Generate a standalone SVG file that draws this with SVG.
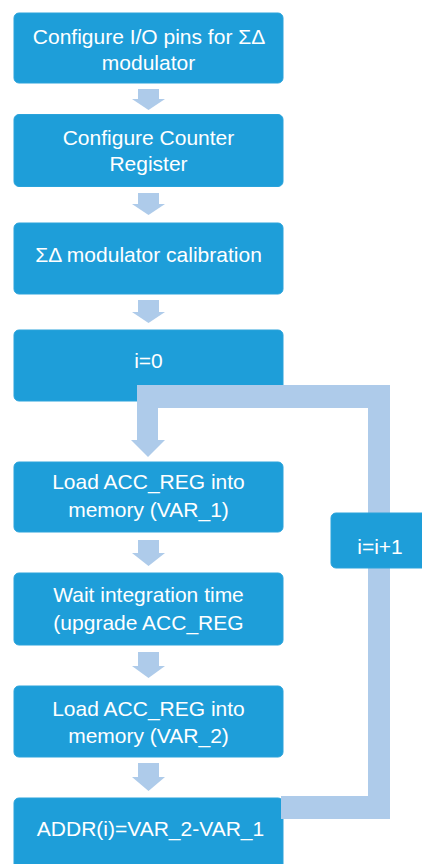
<svg xmlns="http://www.w3.org/2000/svg" width="422" height="864" viewBox="0 0 422 864">
<style>
.box{fill:#1E9ED9;stroke:#2AA3DB;stroke-width:1}
.t{font-family:"Liberation Sans",Arial,sans-serif;font-size:21px;fill:#FFFFFF;text-anchor:middle}
.arr{fill:#AECBEA}
</style>
<rect width="422" height="864" fill="#FFFFFF"/>
<g id="n1"><rect class="box" x="14" y="13" width="269" height="70" rx="5"/>
<text class="t" x="149" y="44">Configure I/O pins for ΣΔ</text>
<text class="t" x="148.5" y="69.5">modulator</text></g>
<g id="n2"><rect class="box" x="14" y="114.5" width="269" height="72" rx="5"/>
<text class="t" x="148.5" y="145">Configure Counter</text>
<text class="t" x="148.5" y="171">Register</text></g>
<g id="n3"><rect class="box" x="14" y="223" width="269" height="71" rx="5"/>
<text class="t" x="148.5" y="262">ΣΔ modulator calibration</text></g>
<g id="n4"><rect class="box" x="14" y="330" width="269" height="71" rx="5"/>
<text class="t" x="148.5" y="368">i=0</text></g>
<g id="n5"><rect class="box" x="14" y="462" width="269" height="70" rx="5"/>
<text class="t" x="148.5" y="489">Load ACC_REG into</text>
<text class="t" x="148.5" y="517">memory (VAR_1)</text></g>
<g id="n6"><rect class="box" x="14" y="573" width="269" height="72" rx="5"/>
<text class="t" x="148.5" y="602">Wait integration time</text>
<text class="t" x="148.5" y="630">(upgrade ACC_REG</text></g>
<g id="n7"><rect class="box" x="14" y="686" width="269" height="71" rx="5"/>
<text class="t" x="148.5" y="716">Load ACC_REG into</text>
<text class="t" x="148.5" y="743">memory (VAR_2)</text></g>
<g id="n8"><rect class="box" x="14" y="798" width="269" height="80" rx="5"/>
<text class="t" x="150.5" y="836">ADDR(i)=VAR_2-VAR_1</text></g>
<g id="connectors">
<polygon class="arr" points="138,89 159,89 159,99 165,99 148.5,110 132,99 138,99"/>
<polygon class="arr" points="138,193 159,193 159,204 165,204 148.5,215 132,204 138,204"/>
<polygon class="arr" points="138,300 159,300 159,312 165,312 148.5,323 132,312 138,312"/>
<polygon class="arr" points="138,540 159,540 159,553 165,553 148.5,566 132,553 138,553"/>
<polygon class="arr" points="138,652 159,652 159,666 165,666 148.5,678 132,666 138,666"/>
<polygon class="arr" points="138,763 159,763 159,777 165,777 148.5,791 132,777 138,777"/>
<polygon class="arr" points="137,385 390,385 390,819 281,819 281,796 368,796 368,408 158,408 158,440 165,440 148,457 131,440 137,440"/>
</g>
<g id="n9"><rect class="box" x="331" y="513" width="100" height="55" rx="5"/>
<text class="t" x="380" y="554">i=i+1</text></g>
</svg>
